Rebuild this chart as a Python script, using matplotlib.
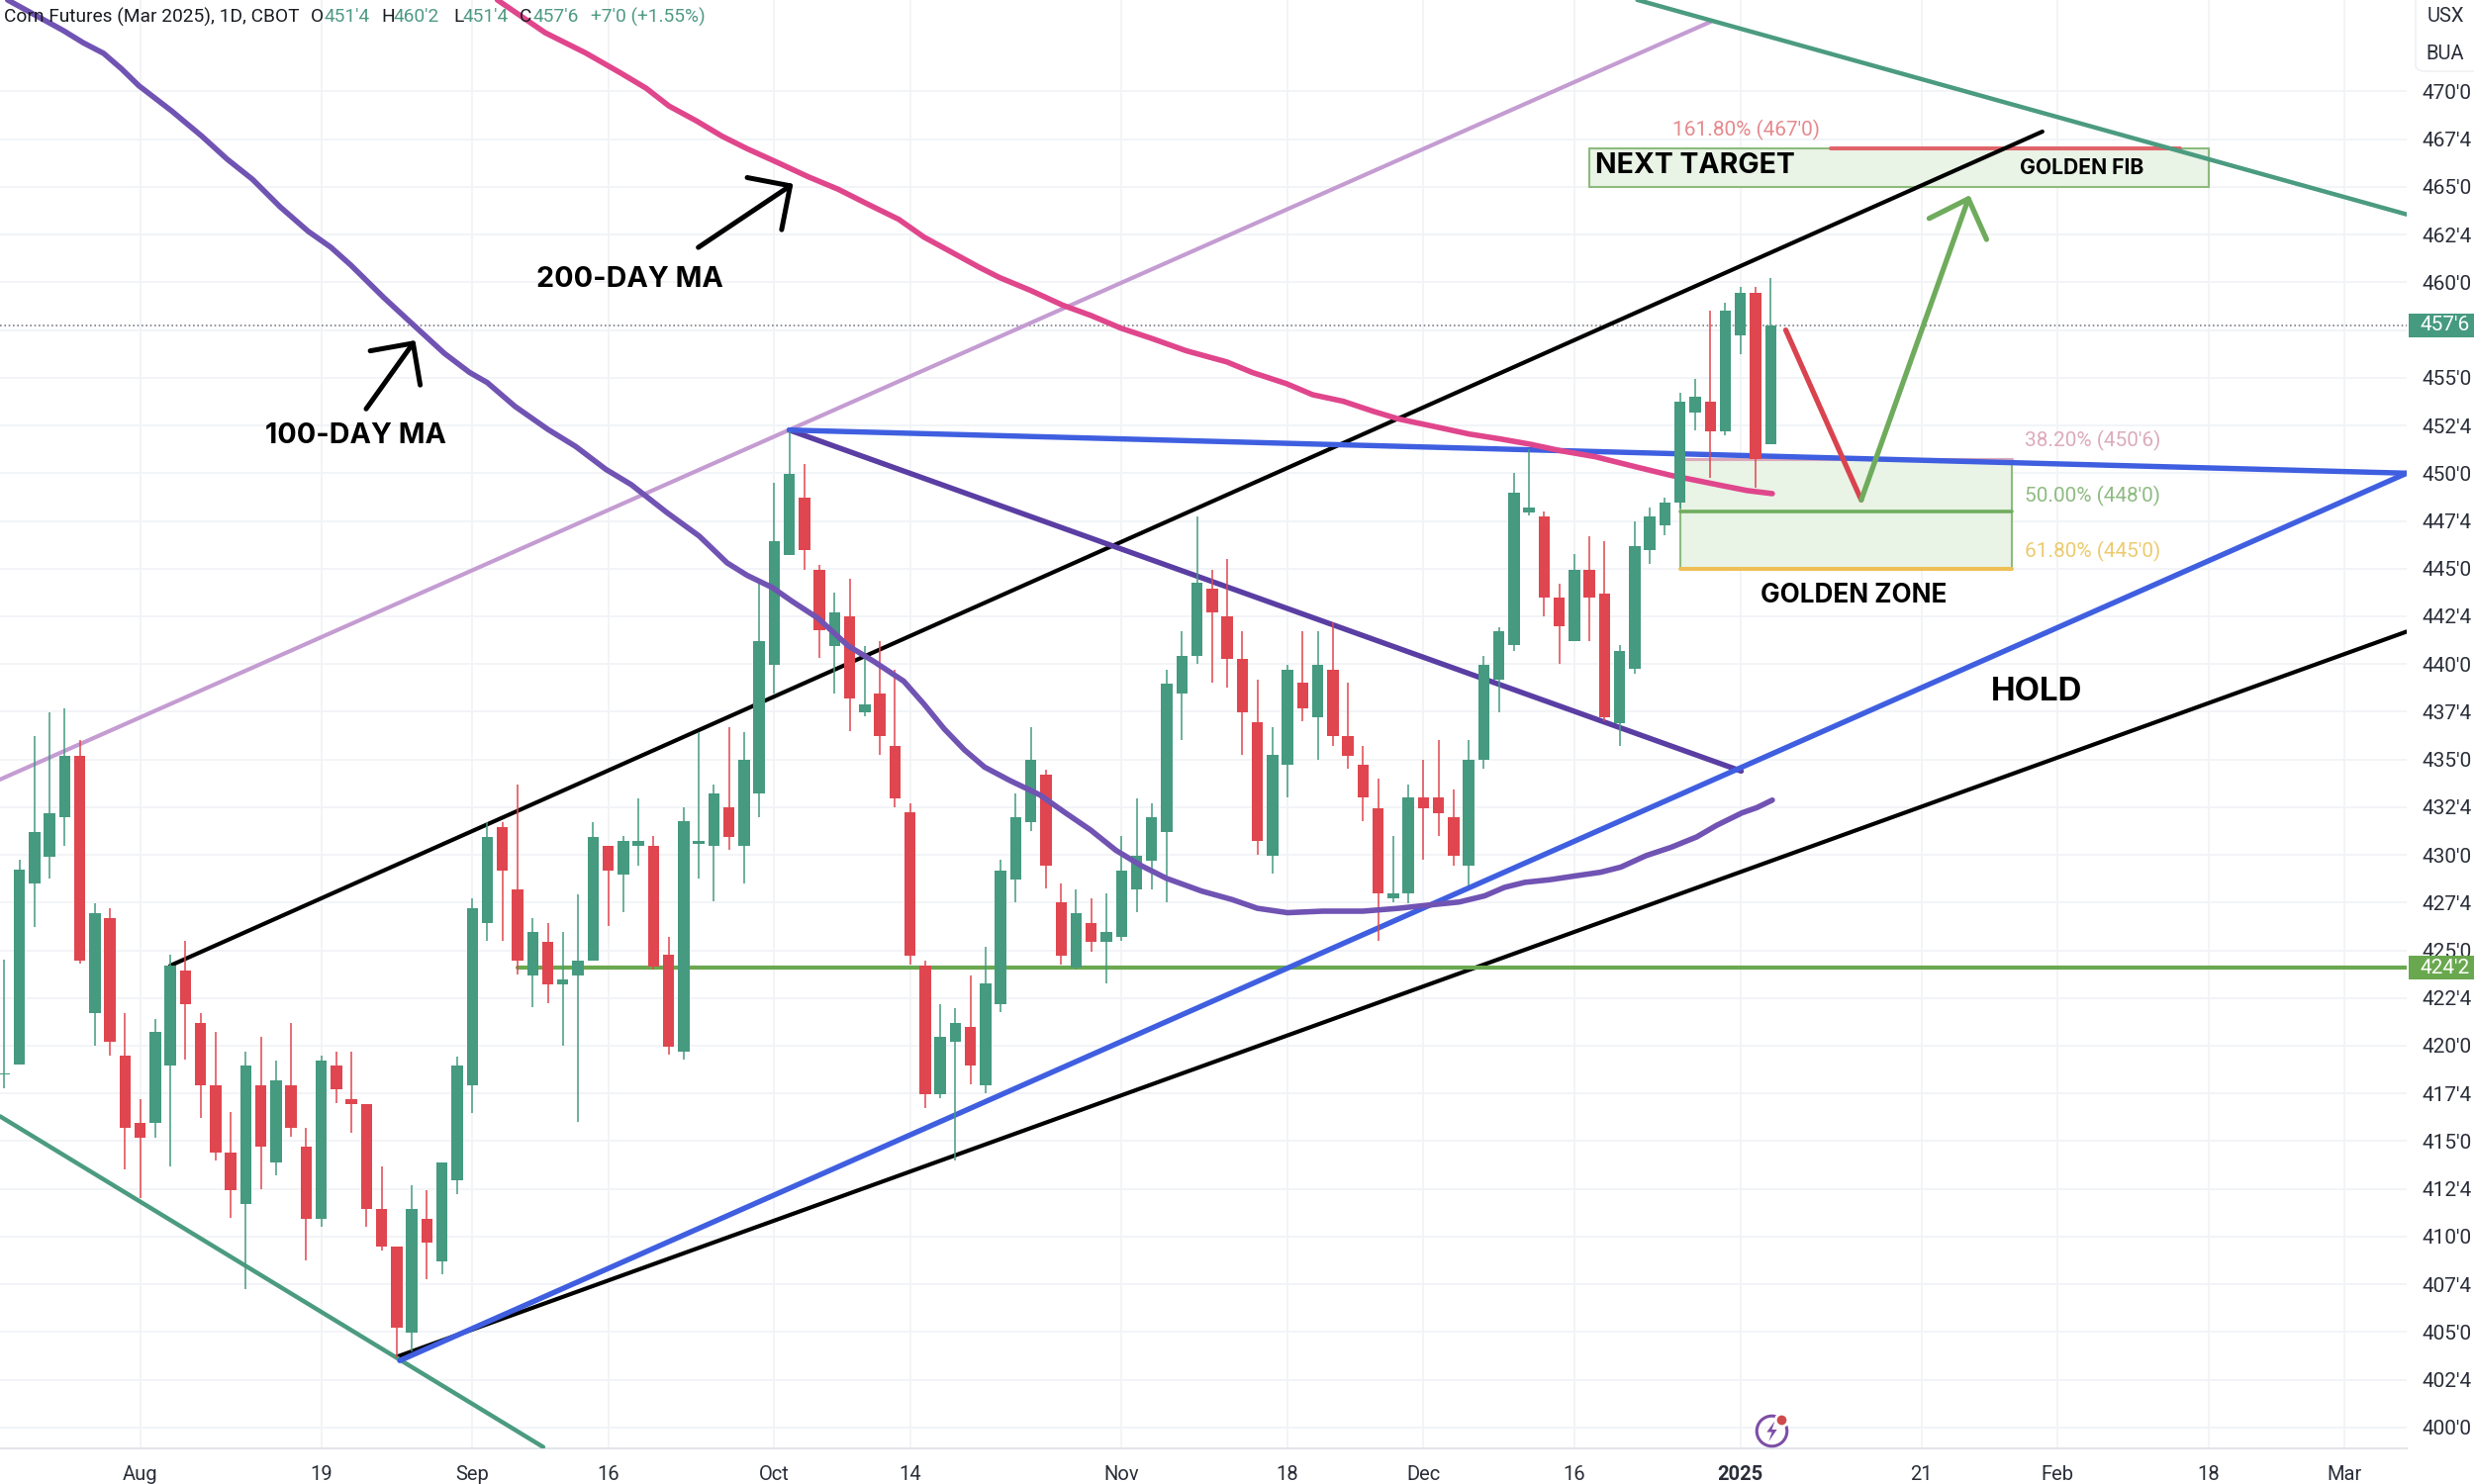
import matplotlib
matplotlib.use('Agg')
import matplotlib.pyplot as plt
from matplotlib.patches import Rectangle, FancyBboxPatch
import numpy as np

plt.rcParams['font.family'] = ['Roboto', 'DejaVu Sans']

# daily candles (cents per bushel)
opens = [418.5, 419, 428.5, 429.9, 431.95, 435.2, 421.7, 426.7, 419.5, 415.95,
         415.95, 418.95, 423.95, 421.2, 417.95, 414.4, 411.7, 417.95, 413.9, 417.95,
         414.7, 410.95, 418.95, 417.2, 416.95, 411.45, 409.45, 404.95, 410.95, 408.7,
         412.95, 417.95, 426.45, 431.45, 428.2, 423.7, 425.45, 423.2, 423.7, 424.45,
         430.45, 428.95, 430.45, 430.45, 424.75, 419.7, 430.6, 430.45, 432.5, 430.45,
         433.2, 439.95, 445.73, 448.7, 444.95, 440.95, 442.5, 437.45, 438.45, 435.7,
         432.25, 424.2, 417.45, 420.2, 421, 417.95, 422.2, 428.7, 431.7, 434.2,
         427.5, 424.1, 426.45, 425.45, 425.68, 428.2, 429.7, 431.2, 438.45, 440.45,
         443.95, 442.5, 440.25, 436.95, 429.95, 434.7, 439, 437.2, 439.7, 436.2,
         434.7, 432.45, 427.7, 428, 433, 433, 432, 429.45, 435, 439.2,
         441, 447.95, 447.75, 443.5, 441.2, 444.95, 443.7, 436.9, 439.75, 445.95,
         447.25, 448.45, 453.2, 453.75, 452.2, 457.2, 459.45, 451.5]
highs = [424.5, 429.75, 436.2, 437.45, 437.7, 436, 427.45, 427.2, 421.7, 417.2,
         421.4, 424.75, 425.5, 421.7, 420.7, 416.5, 419.7, 420.45, 419.2, 421.2,
         415.7, 419.5, 419.7, 419.7, 416.95, 413.7, 409.45, 412.7, 412.45, 413.9,
         419.45, 427.7, 431.7, 431.7, 433.7, 426.7, 426.45, 425.95, 427.95, 431.7,
         430.45, 431, 432.95, 431, 425.7, 432.5, 436.45, 433.7, 436.7, 436.45,
         444.3, 449.5, 452.2, 450.5, 445.2, 443.75, 444.45, 440.95, 441.2, 439.7,
         432.7, 424.45, 422.2, 421.95, 423.7, 425.2, 429.75, 433.2, 436.7, 434.45,
         428.5, 428.2, 427.7, 428, 431, 432.95, 432.7, 439.7, 441.7, 447.75,
         444.95, 445.5, 441.7, 439.2, 436.7, 439.95, 441.7, 441.7, 442.2, 439,
         435.7, 434, 431, 433.7, 435, 436, 433.45, 436, 440.45, 441.95,
         450, 451.25, 448, 444.2, 445.75, 446.7, 446.45, 441, 447.45, 448.2,
         448.7, 454.2, 454.95, 458.5, 458.95, 459.75, 459.75, 460.25]
lows = [417.75, 419, 426.2, 428.75, 430.45, 424.3, 420, 419.5, 413.5, 412,
        415.2, 413.7, 419.25, 416.2, 414, 411, 407.25, 412.5, 413.2, 415.25,
        408.75, 410.5, 417, 415.45, 410.5, 409.25, 403.65, 404, 407.75, 408,
        412.2, 416.45, 425.5, 425.5, 423.75, 422, 422.25, 420, 416, 424.45,
        426.25, 427, 429.45, 424, 419.55, 419.25, 428.75, 427.55, 430.25, 428.5,
        432, 438.45, 445.73, 444.95, 440.3, 438.45, 436.5, 437.25, 435.25, 432.5,
        424.25, 416.75, 417.25, 414, 418, 417.5, 421.75, 427.5, 431.25, 428.25,
        424.25, 424, 424.95, 423.25, 425.5, 427, 428.2, 427.5, 436, 440,
        439, 438.75, 435.25, 430, 429, 433, 437, 435, 435.7, 434.5,
        431.75, 425.5, 427.5, 427.45, 429.75, 431, 429.45, 428.4, 434.5, 437.45,
        440.7, 447.8, 442.5, 440, 441.2, 441.2, 437, 435.7, 439.5, 445.25,
        446.75, 448.15, 452.25, 449.75, 452, 456.25, 449.25, 451.5]
closes = [418.55, 429.25, 431.2, 432.2, 435.2, 424.45, 426.95, 420.2, 415.7, 415.2,
          420.7, 424.2, 422.2, 417.95, 414.4, 412.45, 418.95, 414.7, 418.2, 415.7,
          410.95, 419.2, 417.7, 416.95, 411.45, 409.45, 405.2, 411.45, 409.7, 413.9,
          418.95, 427.2, 430.95, 429.2, 424.45, 425.95, 423.2, 423.45, 424.45, 430.95,
          429.2, 430.75, 430.75, 424.15, 419.95, 431.75, 430.75, 433.2, 430.95, 435,
          441.2, 446.45, 449.98, 445.95, 441.75, 442.7, 438.2, 437.9, 436.2, 432.95,
          424.7, 417.45, 420.45, 421.2, 418.95, 423.25, 429.2, 431.95, 435, 429.45,
          424.7, 426.95, 425.45, 425.95, 429.2, 429.95, 431.95, 438.95, 440.45, 444.25,
          442.7, 440.25, 437.45, 430.75, 435.25, 439.7, 437.7, 439.95, 436.2, 435.2,
          433, 428, 428, 433, 432.45, 432.2, 429.95, 435, 439.95, 441.7,
          449, 448.2, 443.5, 442, 444.95, 443.5, 437.2, 440.7, 446.2, 447.75,
          448.45, 453.75, 454, 452.2, 458.5, 459.45, 450.75, 457.75]

# moving averages as (bar, price)
ma100_x = [0.22, 2.06, 3.9, 5.24, 6.58, 7.75, 8.92, 11.09, 13.1, 14.77, 16.44, 18.28, 20.12, 21.63,
           22.96, 25.14, 27.14, 29.15, 30.82, 31.99, 33.83, 36, 37.85, 39.85, 41.53, 43.87, 46.04,
           47.88, 49.2, 50.89, 52.16, 53.9, 55.9, 57.57, 59.58, 60.92, 62.26, 63.6, 64.93, 66.6,
           68.6, 70.29, 71.96, 73.63, 75.3, 76.98, 79.32, 81.32, 83, 85, 87.34, 90, 92.36, 94.37,
           96.37, 98.05, 99.38, 100.72, 102.4, 104.07, 105.74, 107.08, 108.75, 110.42, 112.1,
           113.43, 115.1, 116.1, 117.11]
ma100_y = [474.8, 474, 473.2, 472.55, 472, 471.2, 470.3, 468.98, 467.65, 466.45, 465.4, 463.95, 462.68, 461.84,
           460.9, 459.2, 457.74, 456.28, 455.28, 454.75, 453.5, 452.3, 451.4, 450.2, 449.4, 447.95, 446.7,
           445.3, 444.65, 444, 443.3, 442.4, 440.95, 440.15, 439.1, 437.9, 436.6, 435.5, 434.6, 433.9,
           433.14, 432.2, 431.3, 430.24, 429.44, 428.77, 428.1, 427.66, 427.2, 426.97, 427.05, 427.05, 427.2, 427.37,
           427.53, 427.85, 428.3, 428.56, 428.7, 428.9, 429.09, 429.36, 429.96, 430.4, 430.94,
           431.55, 432.2, 432.48, 432.87]
ma200_x = [32.66, 35.83, 38.51, 40.85, 42.52, 44.03, 45.87, 47.54, 49.21, 51.22, 53.23, 55.23, 57.24, 59.25,
           60.92, 62.59, 64.6, 65.93, 67.94, 70.12, 71.96, 73.96, 75.97, 78.31, 80.98, 82.66, 84.93,
           86.67, 88.68, 90.69, 92.36, 94.7, 97.04, 99.05, 101.06, 103.06, 105.4, 108.08, 110.42,
           112.09, 113.77, 115.44, 117.11]
ma200_y = [474.8, 473.08, 472.02, 470.96, 470.17, 469.24, 468.45, 467.66, 467, 466.28, 465.54, 464.88, 464.08, 463.3,
           462.37, 461.65, 460.78, 460.25, 459.59, 458.8, 458.27, 457.6, 457.07, 456.41, 455.83, 455.28, 454.69,
           454.11, 453.77, 453.24, 452.84, 452.45, 452.05, 451.8, 451.52, 451.18, 450.86, 450.33, 449.88,
           449.62, 449.35, 449.09, 448.93]

# trend lines: x pair, y pair
black_up_x, black_up_y = [11, 135], [424.2, 467.9]
black_low_x, black_low_y = [26, 159.13], [403.7, 441.7]
blue_low_x, blue_low_y = [26.2, 159.13], [403.5, 450]
blue_top_x, blue_top_y = [52, 159.13], [452.26, 450]
purple_x, purple_y = [52, 115.05], [452.26, 434.39]
lilac_x, lilac_y = [-0.28, 113.06], [433.95, 473.67]
teal_top_x, teal_top_y = [108.17, 159.13], [474.8, 463.56]
teal_low_x, teal_low_y = [-0.28, 35.7], [416.3, 398.97]
support_x, support_y = [34, 159.13], [424.1, 424.1]
move_down_x, move_down_y = [118, 123], [457.5, 448.6]
move_up_x, move_up_y = [123, 130.1], [448.6, 464.38]
move_head_x, move_head_y = [127.5, 130.1, 131.3], [463.35, 464.38, 462.25]
arrow100_x, arrow100_y = [23.97, 27.08], [453.37, 456.81]
head100_x, head100_y = [24.24, 27.08, 27.55], [456.41, 456.81, 454.62]
arrow200_x, arrow200_y = [45.97, 52.06], [461.83, 465.06]
head200_x, head200_y = [49.21, 52.06, 51.49], [465.49, 465.06, 462.76]

y_ticks = np.arange(400, 472.5, 2.5)
y_labels = ["400'0", "402'4", "405'0", "407'4", "410'0", "412'4", "415'0", "417'4", "420'0", "422'4",
            "425'0", "427'4", "430'0", "432'4", "435'0", "437'4", "440'0", "442'4", "445'0", "447'4",
            "450'0", "452'4", "455'0", "457'4", "460'0", "462'4", "465'0", "467'4", "470'0"]
x_ticks = [9, 21, 31, 40, 51, 60, 74, 85, 94, 104, 115, 127, 136, 146, 155]
x_labels = ['Aug', '19', 'Sep', '16', 'Oct', '14', 'Nov', '18', 'Dec', '16', '2025', '21', 'Feb', '18', 'Mar']

GREEN = '#459a80'
RED = '#e0464f'
AXTXT = '#2a2e39'

fig = plt.figure(figsize=(25, 15), dpi=100)
ax = fig.add_axes([0, 36 / 1500, 2432 / 2500, 1464 / 1500])
ax.set_xlim(-0.282, 159.13)
ax.set_ylim(398.9, 474.795)

ax.set_xticks(x_ticks)
ax.set_xticklabels(x_labels, fontsize=14.5, color=AXTXT)
ax.set_yticks(y_ticks)
ax.set_yticklabels(y_labels, fontsize=15, color=AXTXT)
ax.yaxis.tick_right()
ax.tick_params(length=0)
ax.tick_params(axis='x', pad=12)
ax.tick_params(axis='y', pad=11)
ax.get_xticklabels()[10].set_fontweight('bold')
ax.grid(True, color='#f1f3f7', lw=1.3)
ax.set_axisbelow(True)
for s in ['top', 'left', 'right']:
    ax.spines[s].set_visible(False)
ax.spines['bottom'].set_color('#e3e5ea')
ax.spines['bottom'].set_linewidth(1.5)


def line(xs, ys, color, lw=3.0, z=3):
    ax.plot(xs, ys, color=color, lw=lw, zorder=z, solid_capstyle='round', solid_joinstyle='round')


# fib zones
ax.add_patch(Rectangle((105, 465), 41, 2, fc='#e9f3e6', ec='#8dbb7e', lw=1.5, zorder=1))
ax.add_patch(Rectangle((111, 445), 22, 5.75, fc='#e9f3e6', ec='#8dbb7e', lw=1.5, zorder=1))
line([111, 133], [450.75, 450.75], '#dca9bb', 2.2, 1.5)
line([111, 133], [448, 448], '#70ad5f', 2.6, 1.5)
line([111, 133], [445, 445], '#eebf55', 2.9, 1.5)
line([121, 144.1], [467, 467], '#e0646a', 2.9, 2)

# trend lines under the candles
line(lilac_x, lilac_y, '#c49cd2')
line(black_up_x, black_up_y, 'black')
line(black_low_x, black_low_y, 'black')
line(teal_top_x, teal_top_y, '#4b9b80', 3.2)
line(teal_low_x, teal_low_y, '#4b9b80', 3.2)
line(support_x, support_y, '#6aa84f')
line(purple_x, purple_y, '#5a3ea3', 3.9)
line(blue_low_x, blue_low_y, '#3f5fe0', 3.9)
line(blue_top_x, blue_top_y, '#3f5fe0', 3.9)
line(ma200_x, ma200_y, '#e0468c', 4.0)

# current price
ax.axhline(closes[-1], color='#7b7f8a', lw=1.2, ls=(0, (1, 1.6)), zorder=2)

# candles
bars = np.arange(len(opens))
o = np.array(opens)
c = np.array(closes)
colors = [GREEN if b else RED for b in c >= o]
ax.vlines(bars, lows, highs, colors=colors, lw=1.1, zorder=4)
ax.bar(bars, np.abs(c - o), bottom=np.minimum(o, c), width=0.75, color=colors, lw=0, zorder=4)

line(ma100_x, ma100_y, '#7053b3', 4.0, 5)

# the drawn path and arrows
line(move_down_x, move_down_y, '#d9434e', 3.8, 6)
line(move_up_x, move_up_y, '#6fab5c', 3.8, 6)
line(move_head_x, move_head_y, '#6fab5c', 3.8, 6)
line(arrow100_x, arrow100_y, 'black', 3.6, 6)
line(head100_x, head100_y, 'black', 3.6, 6)
line(arrow200_x, arrow200_y, 'black', 3.6, 6)
line(head200_x, head200_y, 'black', 3.6, 6)

# annotations
kw = dict(family=['Inter', 'DejaVu Sans'], weight='bold', color='black', ha='center', va='center', zorder=7)
ax.text(23.3, 451.95, '100-DAY MA', fontsize=20.7, **kw)
ax.text(41.45, 460.15, '200-DAY MA', fontsize=20.7, **kw)
ax.text(122.5, 443.6, 'GOLDEN ZONE', fontsize=18.8, **kw)
ax.text(137.6, 466.0, 'GOLDEN FIB', fontsize=15.2, **kw)
ax.text(134.6, 438.55, 'HOLD', fontsize=23.8, **kw)
ax.text(105.35, 466.1, 'NEXT TARGET', fontsize=20.5, family=['Inter', 'DejaVu Sans'], weight='bold',
        color='black', ha='left', va='center', zorder=7)

ax.text(115.4, 468, "161.80% (467'0)", fontsize=15, color='#e58a8e', ha='center', va='center')
ax.text(138.3, 451.7, "38.20% (450'6)", fontsize=15, color='#dcabbd', ha='center', va='center')
ax.text(138.3, 448.8, "50.00% (448'0)", fontsize=15, color='#8fbb82', ha='center', va='center')
ax.text(138.3, 445.9, "61.80% (445'0)", fontsize=15, color='#eccb70', ha='center', va='center')

# lightning icon
ax.plot([117.05], [399.85], marker='o', ms=22, mfc='none', mec='#7d4ea5', mew=2.2, clip_on=False, zorder=6)
ax.plot([117.05], [399.85], marker=[(0.3, 1), (-0.5, -0.1), (0, -0.1), (-0.3, -1), (0.5, 0.15), (0, 0.15)],
        ms=15, color='#7d4ea5', mew=0, zorder=6)
ax.plot([117.7], [400.4], marker='o', ms=11, color='white', mew=0, zorder=6)
ax.plot([117.7], [400.4], marker='o', ms=7, color='#cf4b4b', mew=0, zorder=7)


def ftext(px, py, s, **k):
    fig.text(px / 2500, 1 - py / 1500, s, va='center', **k)


# header
ftext(4, 17, 'Corn Futures (Mar 2025), 1D, CBOT', fontsize=13.8, color='#1a1c22')
for px, s in [(314, 'O'), (385, 'H'), (458, 'L'), (525, 'C')]:
    ftext(px, 17, s, fontsize=13.8, color='#1a1c22')
for px, s in [(328, "451'4"), (398, "460'2"), (468, "451'4"), (539, "457'6"), (597, "+7'0 (+1.55%)")]:
    ftext(px, 17, s, fontsize=13.8, color='#4f9a84')

# price scale extras
fig.patches.append(FancyBboxPatch((2441 / 2500, 1 - 72 / 1500), 70 / 2500, 90 / 1500,
                                  boxstyle='round,pad=0,rounding_size=0.004', fc='white', ec='#eceef2', lw=1,
                                  transform=fig.transFigure))
ftext(2471, 17, 'USX', fontsize=14.5, color=AXTXT, ha='center')
ftext(2471, 54, 'BUA', fontsize=14.5, color=AXTXT, ha='center')
fig.patches.append(Rectangle((2434 / 2500, 1 - 341 / 1500), 66 / 2500, 24 / 1500, fc=GREEN, ec='none',
                             transform=fig.transFigure))
ftext(2471, 329, "457'6", fontsize=15, color='white', ha='center')
fig.patches.append(Rectangle((2434 / 2500, 1 - 990 / 1500), 66 / 2500, 24 / 1500, fc='#6aa84f', ec='none',
                             transform=fig.transFigure))
ftext(2471, 978, "424'2", fontsize=15, color='white', ha='center')

fig.savefig('out.png', dpi=100)
